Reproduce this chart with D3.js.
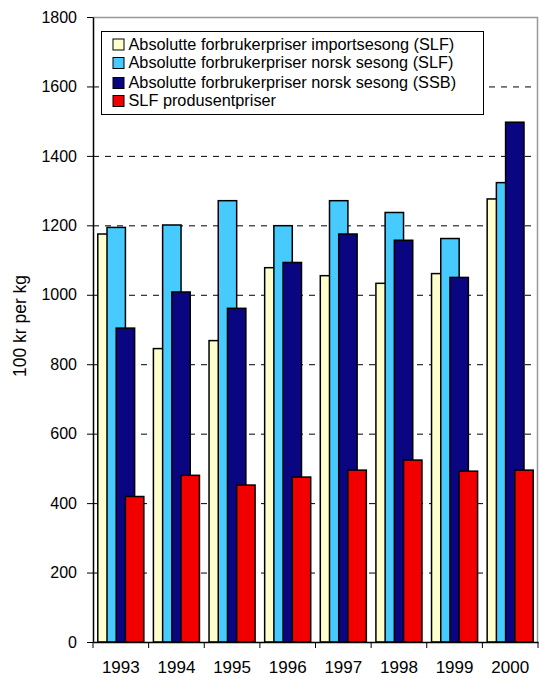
<!DOCTYPE html>
<meta charset="utf-8">
<style>
body { margin: 0; background: #fff; }
text { font-family: "Liberation Sans", Arial, sans-serif; fill: #000; }
.grid line { stroke: #000; stroke-dasharray: 6,6; }
</style>
<body>
<script src="https://d3js.org/d3.v7.min.js"></script>
<script>
var years = ["1993","1994","1995","1996","1997","1998","1999","2000"];
var seriesNames = [
  "Absolutte forbrukerpriser importsesong (SLF)",
  "Absolutte forbrukerpriser norsk sesong (SLF)",
  "Absolutte forbrukerpriser norsk sesong (SSB)",
  "SLF produsentpriser"
];
var importSLF = [1175, 845, 868, 1078, 1055, 1033, 1061, 1276];
var norskSLF  = [1194, 1201, 1271, 1199, 1271, 1237, 1162, 1323];
var norskSSB  = [904, 1008, 961, 1093, 1175, 1157, 1050, 1497];
var produsent = [419, 480, 452, 475, 495, 524, 492, 495];
var colors = ["#ffffcc", "#47cbff", "#0a0580", "#f20000"];
var yTicks = [0, 200, 400, 600, 800, 1000, 1200, 1400, 1600, 1800];

var series = [importSLF, norskSLF, norskSSB, produsent];

var margin = {top: 17, right: 1, bottom: 36, left: 93},
    width = 539 - margin.left - margin.right,
    height = 678 - margin.top - margin.bottom;

var svg = d3.select("body").append("svg")
    .attr("width", 539)
    .attr("height", 678)
  .append("g")
    .attr("transform", "translate(" + margin.left + "," + margin.top + ")");

var x = d3.scaleBand().domain(years).range([0, width]);
var y = d3.scaleLinear().domain([0, 1800]).range([height, 0]);

// bars overlap by half their width, Excel style
var barW = x.bandwidth() / 3.02;
var step = barW / 2;
var pad = (x.bandwidth() - (barW + 3 * step)) / 2;

// gridlines
svg.append("g")
    .attr("class", "grid")
  .selectAll("line")
    .data(yTicks.filter(function(d) { return d > 0 && d < 1800; }))
  .enter().append("line")
    .attr("x1", 0)
    .attr("x2", width)
    .attr("y1", function(d) { return y(d) + 0.5; })
    .attr("y2", function(d) { return y(d) + 0.5; });

// plot frame top & right (grey)
svg.append("path")
    .attr("d", "M0," + (y(1800) + 0.5) + "H" + (width - 0.5) + "V" + height)
    .attr("fill", "none")
    .attr("stroke", "#999")
    .attr("stroke-width", 1.5);

series.forEach(function(vals, si) {
  svg.append("g").selectAll("rect")
      .data(vals)
    .enter().append("rect")
      .attr("x", function(d, i) { return x(years[i]) + pad + si * step; })
      .attr("y", function(d) { return y(d); })
      .attr("width", barW)
      .attr("height", function(d) { return height - y(d); })
      .attr("fill", colors[si])
      .attr("stroke", "#000")
      .attr("stroke-width", 1.5);
});

// y axis
var yAxis = svg.append("g")
    .call(d3.axisLeft(y).tickValues(yTicks).tickFormat(d3.format("d"))
      .tickSize(6).tickSizeOuter(0).tickPadding(10));
yAxis.selectAll("text").style("font-size", "16px");

// x axis
var xAxis = svg.append("g")
    .attr("transform", "translate(0," + height + ")")
    .call(d3.axisBottom(x).tickSize(0).tickPadding(19).tickSizeOuter(0));
xAxis.selectAll("text").style("font-size", "17px");
xAxis.selectAll(".tick").append("line")
    .attr("stroke", "#000")
    .attr("x1", -x.bandwidth() / 2).attr("x2", -x.bandwidth() / 2)
    .attr("y1", 0).attr("y2", 6);
xAxis.append("line")
    .attr("stroke", "#000")
    .attr("x1", width).attr("x2", width)
    .attr("y1", 0).attr("y2", 6);
svg.selectAll(".domain").attr("stroke-width", 1.5);

// y label
svg.append("text")
    .attr("transform", "translate(" + (20 - margin.left) + "," + (326 - margin.top) + ") rotate(-90)")
    .attr("text-anchor", "middle")
    .attr("dy", "0.35em")
    .style("font-size", "17.5px")
    .text("100 kr per kg");

// legend
var legend = svg.append("g")
    .attr("transform", "translate(" + (101.5 - margin.left) + "," + (31.5 - margin.top) + ")");
legend.append("rect")
    .attr("width", 382)
    .attr("height", 83)
    .attr("fill", "#fff")
    .attr("stroke", "#000");
var rowY = [12.5, 31, 51, 69];
seriesNames.forEach(function(name, i) {
  legend.append("rect")
      .attr("x", 11.5)
      .attr("y", rowY[i] - 5)
      .attr("width", 11)
      .attr("height", 11)
      .attr("fill", colors[i])
      .attr("stroke", "#000");
  legend.append("text")
      .attr("x", 27)
      .attr("y", rowY[i])
      .attr("dy", "0.35em")
      .style("font-size", "16.3px")
      .text(name);
});
</script>
</body>
